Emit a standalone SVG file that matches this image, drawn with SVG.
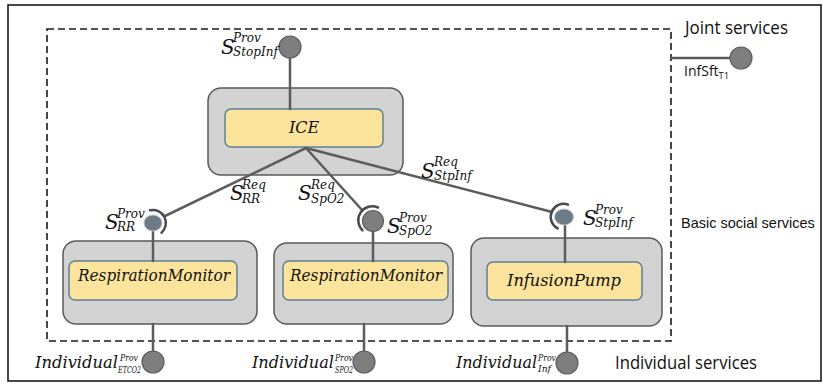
<svg xmlns="http://www.w3.org/2000/svg" width="823" height="384" viewBox="0 0 823 384">
  <style>
    .frame { fill: none; stroke: #1a1a1a; stroke-width: 1.6; }
    .zone { fill: none; stroke: #1a1a1a; stroke-width: 1.6; stroke-dasharray: 7 4; }
    .outer { fill: #d3d3d3; stroke: #5a5a5a; stroke-width: 1.5; }
    .inner { fill: #fde49c; stroke: #5d8196; stroke-width: 1.5; }
    .wire { fill: none; stroke: #5c5c5c; stroke-width: 2.5; stroke-linecap: round; }
    .socket { fill: none; stroke: #4a4a4a; stroke-width: 2.5; stroke-linecap: round; }
    .ball { fill: #7e7e7e; stroke: #5e5e5e; stroke-width: 1.2; }
    .pball { fill: #6f7a87; stroke: #b9c6d3; stroke-width: 1; }
    .math { font-family: "DejaVu Serif", serif; font-style: italic; fill: #111111; }
    .S { font-size: 20px; }
    .sc { font-size: 12px; }
    .isc { font-size: 8.5px; }
    .name { font-size: 16px; text-anchor: middle; }
    .tier { font-family: "Open Sans", "Liberation Sans", sans-serif; font-size: 18px; fill: #111111; }
  </style>

  <rect x="0" y="0" width="823" height="384" fill="#ffffff"/>
  <rect class="frame" x="8" y="5" width="813" height="376"/>
  <rect class="zone" x="47" y="29" width="624" height="312"/>

  <!-- tier captions -->
  <text class="tier" x="685" y="34" textLength="103" lengthAdjust="spacingAndGlyphs">Joint services</text>
  <text x="681" y="228" font-family="'Liberation Sans', Arial, sans-serif" font-size="14.5" fill="#111111">Basic social services</text>
  <text class="tier" x="615" y="369" textLength="142" lengthAdjust="spacingAndGlyphs">Individual services</text>

  <!-- component boxes -->
  <g id="ice">
    <rect class="outer" x="208" y="88" width="195" height="87" rx="13"/>
    <rect class="inner" x="225" y="109" width="158" height="38" rx="6"/>
    <text class="math name" x="304" y="133">ICE</text>
  </g>
  <g id="monitor-rr">
    <rect class="outer" x="63" y="241" width="194" height="83" rx="13"/>
    <rect class="inner" x="69" y="261" width="168" height="39" rx="6"/>
    <text class="math name" x="154" y="281" textLength="152" lengthAdjust="spacingAndGlyphs">RespirationMonitor</text>
  </g>
  <g id="monitor-spo2">
    <rect class="outer" x="274" y="243" width="179" height="81" rx="13"/>
    <rect class="inner" x="283" y="261" width="165" height="39" rx="6"/>
    <text class="math name" x="366" y="281" textLength="152" lengthAdjust="spacingAndGlyphs">RespirationMonitor</text>
  </g>
  <g id="infusion-pump">
    <rect class="outer" x="471" y="238" width="191" height="88" rx="13"/>
    <rect class="inner" x="487" y="262" width="155" height="38" rx="6"/>
    <text class="math name" x="564" y="286" textLength="114" lengthAdjust="spacingAndGlyphs">InfusionPump</text>
  </g>

  <!-- connectors -->
  <g id="connectors">
    <line class="wire" x1="290" y1="47" x2="290" y2="109"/>
    <line class="wire" x1="671" y1="58" x2="741" y2="58"/>
    <line class="wire" x1="306" y1="148" x2="165" y2="216"/>
    <line class="wire" x1="306" y1="148" x2="362" y2="210"/>
    <line class="wire" x1="306" y1="148" x2="552" y2="212"/>
    <line class="wire" x1="153" y1="223" x2="153" y2="261"/>
    <line class="wire" x1="373" y1="221" x2="373" y2="261"/>
    <line class="wire" x1="565" y1="217" x2="565" y2="262"/>
    <line class="wire" x1="153" y1="324" x2="153" y2="362"/>
    <line class="wire" x1="364" y1="324" x2="364" y2="362"/>
    <line class="wire" x1="567" y1="326" x2="567" y2="363"/>
  </g>

  <!-- joint service port -->
  <g id="infsft">
    <circle class="ball" cx="741" cy="58" r="11"/>
    <text x="684" y="76" font-family="'Open Sans', 'Liberation Sans', sans-serif" font-size="14" fill="#111111">InfSft<tspan font-size="9.5" dy="3">T1</tspan></text>
  </g>

  <g id="stopinf-prov">
    <circle class="ball" cx="290" cy="47" r="11"/>
    <text class="math S" x="221" y="54">S</text>
    <text class="math sc" x="233" y="42">Prov</text>
    <text class="math sc" x="233" y="56" textLength="45" lengthAdjust="spacingAndGlyphs">StopInf</text>
  </g>

  <!-- requirer labels -->
  <g id="req-labels">
    <text class="math S" x="230" y="200">S</text>
    <text class="math sc" x="242" y="189">Req</text>
    <text class="math sc" x="242" y="203">RR</text>
    <text class="math S" x="298" y="200">S</text>
    <text class="math sc" x="311" y="189">Req</text>
    <text class="math sc" x="311" y="203">SpO2</text>
    <text class="math S" x="421" y="178">S</text>
    <text class="math sc" x="434" y="166">Req</text>
    <text class="math sc" x="434" y="180">StpInf</text>
  </g>

  <!-- provided ports with sockets -->
  <g id="port-rr">
    <ellipse class="pball" cx="153" cy="223" rx="9" ry="8"/>
    <path class="socket" d="M 150 210.3 A 13 13 0 0 1 161.5 232.7"/>
    <text class="math S" x="105" y="229">S</text>
    <text class="math sc" x="117" y="218">Prov</text>
    <text class="math sc" x="117" y="231">RR</text>
  </g>
  <g id="port-spo2">
    <circle class="ball" cx="373" cy="221" r="10.5"/>
    <path class="socket" d="M 378 207.5 A 14 14 0 0 0 362.5 230.3"/>
    <text class="math S" x="387" y="233">S</text>
    <text class="math sc" x="399" y="222">Prov</text>
    <text class="math sc" x="399" y="235">SpO2</text>
  </g>
  <g id="port-stpinf">
    <ellipse class="pball" cx="564" cy="217" rx="9.5" ry="8"/>
    <path class="socket" d="M 568 204.6 A 13 13 0 0 0 557.7 228.4"/>
    <text class="math S" x="583" y="225">S</text>
    <text class="math sc" x="595" y="214">Prov</text>
    <text class="math sc" x="595" y="227">StpInf</text>
  </g>

  <!-- individual service ports -->
  <g id="ind-etco2">
    <circle class="ball" cx="153" cy="362" r="11"/>
    <text class="math" x="35" y="368" font-size="16" textLength="83" lengthAdjust="spacingAndGlyphs">Individual</text>
    <text class="math isc" x="120" y="361" textLength="18" lengthAdjust="spacingAndGlyphs">Prov</text>
    <text class="math isc" x="118" y="373" textLength="23" lengthAdjust="spacingAndGlyphs">ETCO2</text>
  </g>
  <g id="ind-spo2">
    <circle class="ball" cx="364" cy="362" r="11"/>
    <text class="math" x="252" y="368" font-size="16" textLength="82" lengthAdjust="spacingAndGlyphs">Individual</text>
    <text class="math isc" x="335" y="361" textLength="18" lengthAdjust="spacingAndGlyphs">Prov</text>
    <text class="math isc" x="335" y="373" textLength="18" lengthAdjust="spacingAndGlyphs">SPO2</text>
  </g>
  <g id="ind-inf">
    <circle class="ball" cx="567" cy="363" r="11"/>
    <text class="math" x="456" y="368" font-size="16" textLength="81" lengthAdjust="spacingAndGlyphs">Individual</text>
    <text class="math isc" x="538" y="361" textLength="18" lengthAdjust="spacingAndGlyphs">Prov</text>
    <text class="math isc" x="538" y="372" textLength="13" lengthAdjust="spacingAndGlyphs">Inf</text>
  </g>
</svg>
